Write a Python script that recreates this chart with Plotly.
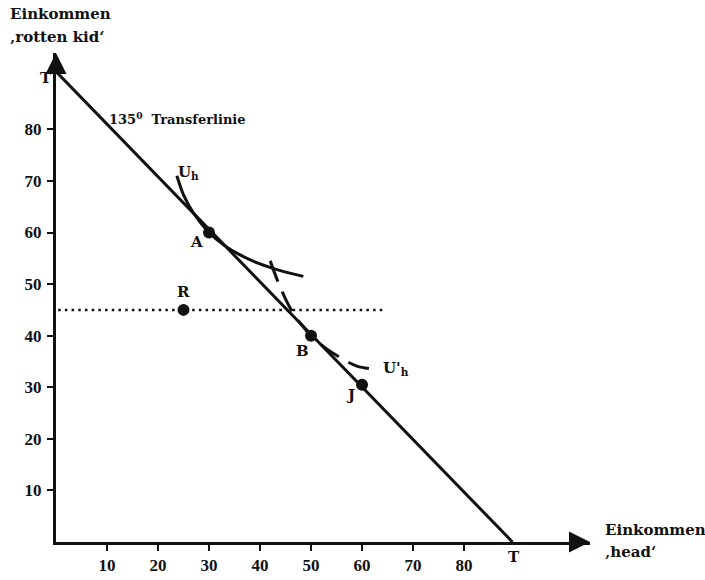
import plotly.graph_objects as go

# --- data ---
transfer_x = [0, 89.5]
transfer_y = [91.2, 0]

uh_x = [23.7, 25, 27, 30, 33, 36, 40, 44, 48.5]
uh_y = [71.0, 67.3, 63.7, 60.0, 57.5, 55.7, 53.9, 52.6, 51.5]

uph_x = [42, 44, 46, 48, 50, 53, 56, 59, 62.5]
uph_y = [54.5, 49.3, 45.2, 42.3, 40.0, 37.45, 35.6, 34.1, 33.5]

dotted_x = [-2.2, 64.5]
dotted_y = [45, 45]

point_names = ["A", "B", "J", "R"]
point_x = [30, 50, 60, 25]
point_y = [60, 40, 30.5, 45]

tick_vals = [10, 20, 30, 40, 50, 60, 70, 80]
tick_text = ["10", "20", "30", "40", "50", "60", "70", "80"]

XMAX = 104.7
YMAX = 94.8

W, H = 705, 580
# plot area in screen pixels
SL, SR, ST, SB = 56, 590, 53, 542


def px2paper(px, py):
    return (px - SL) / (SR - SL), (SB - py) / (SB - ST)


SERIF = "DejaVu Serif"
TICKSERIF = "Liberation Serif"
BLACK = "#111111"

fig = go.Figure()

fig.add_trace(go.Scatter(x=transfer_x, y=transfer_y, mode="lines",
                         line=dict(color=BLACK, width=3), showlegend=False,
                         hoverinfo="skip", cliponaxis=False))
fig.add_trace(go.Scatter(x=dotted_x, y=dotted_y, mode="lines",
                         line=dict(color=BLACK, width=2.5, dash="2.5px,4.2px"),
                         showlegend=False, hoverinfo="skip", cliponaxis=False))
fig.add_trace(go.Scatter(x=uh_x, y=uh_y, mode="lines",
                         line=dict(color=BLACK, width=3, shape="spline"),
                         showlegend=False, hoverinfo="skip"))
fig.add_trace(go.Scatter(x=uph_x, y=uph_y, mode="lines",
                         line=dict(color=BLACK, width=3, shape="spline",
                                   dash="22px,11px"),
                         showlegend=False, hoverinfo="skip"))
fig.add_trace(go.Scatter(x=point_x, y=point_y, mode="markers",
                         marker=dict(color=BLACK, size=12),
                         showlegend=False, hoverinfo="skip"))

font_lbl = dict(family=SERIF, size=15, color=BLACK, weight="bold")

annos = []
# point labels
label_offsets = {"A": (-2.5, -1.8), "B": (-1.6, -3.0), "J": (-2.2, -2.0), "R": (0.0, 3.4)}
for n, x, y in zip(point_names, point_x, point_y):
    dx, dy = label_offsets[n]
    annos.append(dict(x=x + dx, y=y + dy, text=n, showarrow=False, font=font_lbl,
                      xanchor="center", yanchor="middle"))

annos += [
    dict(x=23.6, y=71.7, text="U<sub>h</sub>", showarrow=False, font=font_lbl,
         xanchor="left", yanchor="middle"),
    dict(x=63.8, y=33.6, text="U'<sub>h</sub>", showarrow=False, font=font_lbl,
         xanchor="left", yanchor="middle"),
    dict(x=10.0, y=82.1, text="135<sup>0</sup>  Transferlinie", showarrow=False,
         font=dict(family=SERIF, size=13, color=BLACK, weight="bold"),
         xanchor="left", yanchor="middle"),
]


def paper_text(px, py, text, xanchor="left"):
    x, y = px2paper(px, py)
    return dict(x=x, y=y, xref="paper", yref="paper", text=text, showarrow=False,
                font=font_lbl, xanchor=xanchor, yanchor="middle")


annos += [
    paper_text(54, 78, "T", "right"),
    paper_text(514, 557, "T", "center"),
    paper_text(8, 14, "Einkommen"),
    paper_text(8, 37, "\u201arotten kid\u2018"),
    paper_text(603, 530, "Einkommen"),
    paper_text(603, 552, "\u201ahead\u2018"),
    # arrowheads
    dict(x=XMAX, y=0, ax=-14, ay=0, xref="x", yref="y", showarrow=True,
         arrowhead=2, arrowsize=1.4, arrowwidth=3, arrowcolor=BLACK, text=""),
    dict(x=0, y=YMAX, ax=0, ay=14, xref="x", yref="y", showarrow=True,
         arrowhead=2, arrowsize=1.4, arrowwidth=3, arrowcolor=BLACK, text=""),
]

axis_common = dict(
    showgrid=False, zeroline=False, showline=True, linecolor=BLACK, linewidth=3,
    ticks="outside", ticklen=6, tickwidth=2, tickcolor=BLACK,
    tickvals=tick_vals, ticktext=tick_text, automargin=False,
    tickfont=dict(family=TICKSERIF, size=17, color=BLACK, weight="bold"),
)

fig.update_layout(
    width=W, height=H,
    margin=dict(l=SL, r=W - SR, t=ST, b=H - SB, autoexpand=False),
    paper_bgcolor="white", plot_bgcolor="white",
    xaxis=dict(range=[0, XMAX], ticklabelstandoff=0, **axis_common),
    yaxis=dict(range=[0, YMAX], ticklabelstandoff=2, **axis_common),
    annotations=annos,
    showlegend=False,
)

fig.write_html(
    "out.html",
    config={"displayModeBar": False},
    post_script="document.body.style.margin='0';document.body.style.overflow='hidden';",
)
